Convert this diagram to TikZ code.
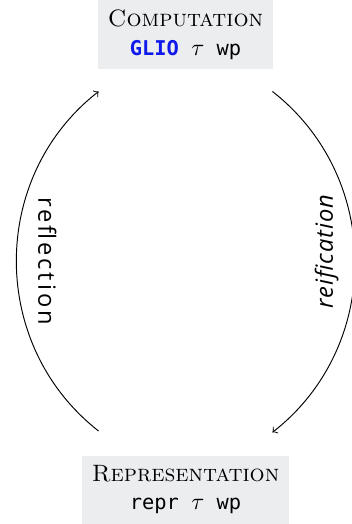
\documentclass[tikz,border=0pt]{standalone}
\usepackage{fontspec}
\setmonofont{DejaVu Sans Mono}[Scale=0.86]
\newfontfamily\labelfont{Open Sans}[LetterSpace=12]
\newfontfamily\slantfont{Open Sans}[LetterSpace=4]
\usepackage{tikz}
\usetikzlibrary{positioning}
\definecolor{boxgray}{RGB}{235,237,239}
\definecolor{kwblue}{RGB}{15,25,235}
\tikzset{
  stage/.style={fill=boxgray, inner xsep=4.2pt, inner ysep=4pt, align=center},
  turn/.style={->, thin, bend left=52, looseness=1.05},
  turnlabel/.style={font=\labelfont, inner sep=0pt},
}

\begin{document}
\begin{tikzpicture}
  \useasboundingbox (-2.753,-3.888) rectangle (2.456,3.888);
  \node[stage, anchor=north] (comp) at (0,3.888)
    {\textsc{Computation}\\ \texttt{\textcolor{kwblue}{\textbf{GLIO}} $\tau$ wp}};
  \node[stage, anchor=south] (repr) at (0,-3.888)
    {\textsc{Representation}\\ \texttt{repr $\tau$ wp}};
  % arrow ends sit a little off the boxes
  \coordinate (tl) at ([xshift=-1.29cm,yshift=-0.33cm]comp.south);
  \coordinate (tr) at ([xshift=1.29cm,yshift=-0.33cm]comp.south);
  \coordinate (bl) at ([xshift=-1.29cm,yshift=0.36cm]repr.north);
  \coordinate (br) at ([xshift=1.29cm,yshift=0.34cm]repr.north);
  \draw[turn] (bl) to node[turnlabel, xshift=0.46cm, rotate=-90] {reflection} (tl);
  \draw[turn] (tr) to node[turnlabel, font=\slantfont, xshift=-0.42cm, yshift=0.15cm, rotate=90] {\itshape reification} (br);
\end{tikzpicture}
\end{document}
